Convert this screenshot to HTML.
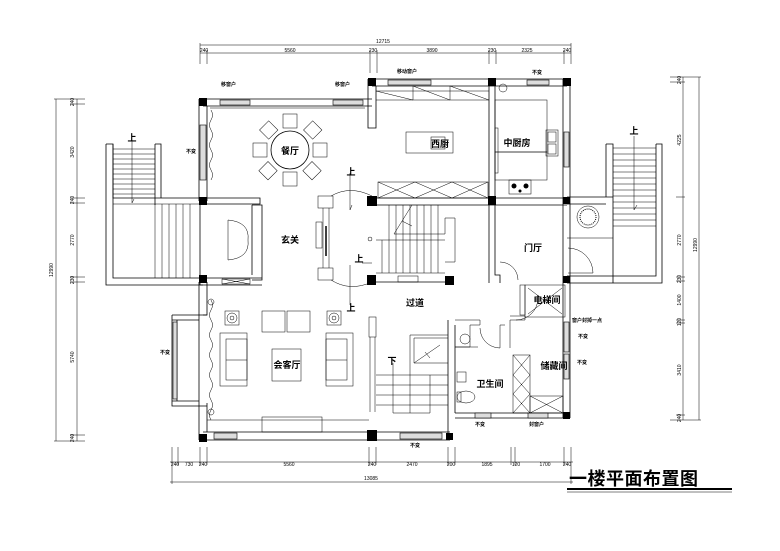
<!DOCTYPE html>
<html><head><meta charset="utf-8"><style>
html,body{margin:0;padding:0;background:#fff;}
svg{display:block;}
text{font-family:"Liberation Sans","Noto Sans CJK SC",sans-serif;fill:#000;}
.l{stroke:#000;stroke-width:0.8;fill:none;}
.t{stroke:#000;stroke-width:0.5;fill:none;}
.w{stroke:#000;stroke-width:0.6;fill:#ddd;}
.c{fill:#000;}
.s{font-size:5px;}
.m{font-size:9px;font-weight:bold;}
</style></head><body>
<svg width="780" height="551" viewBox="0 0 780 551" xmlns="http://www.w3.org/2000/svg">
<rect width="780" height="551" fill="#fff"/>

<!-- ===== top dimensions ===== -->
<g class="t">
<line x1="200" y1="45" x2="571" y2="45"/>
<line x1="200" y1="53" x2="571" y2="53"/>
<line x1="200" y1="43" x2="200" y2="64"/><line x1="207" y1="50" x2="207" y2="64"/>
<line x1="370" y1="50" x2="370" y2="73"/><line x1="377" y1="50" x2="377" y2="73"/>
<line x1="489" y1="50" x2="489" y2="64"/><line x1="496" y1="50" x2="496" y2="64"/>
<line x1="564" y1="50" x2="564" y2="64"/><line x1="571" y1="43" x2="571" y2="64"/>
</g>
<text x="383" y="43" class="s" text-anchor="middle">12715</text>
<text x="204" y="52" class="s" text-anchor="middle">240</text>
<text x="290" y="52" class="s" text-anchor="middle">5560</text>
<text x="373" y="52" class="s" text-anchor="middle">230</text>
<text x="432" y="52" class="s" text-anchor="middle">3890</text>
<text x="492" y="52" class="s" text-anchor="middle">230</text>
<text x="527" y="52" class="s" text-anchor="middle">2325</text>
<text x="567" y="52" class="s" text-anchor="middle">240</text>

<!-- ===== left dimensions ===== -->
<g class="t">
<line x1="56" y1="99" x2="56" y2="441"/>
<line x1="77" y1="99" x2="77" y2="441"/>
<line x1="54" y1="99" x2="85" y2="99"/><line x1="70" y1="104" x2="85" y2="104"/>
<line x1="70" y1="198" x2="85" y2="198"/><line x1="70" y1="203" x2="85" y2="203"/>
<line x1="70" y1="277" x2="85" y2="277"/><line x1="70" y1="282" x2="85" y2="282"/>
<line x1="70" y1="435" x2="85" y2="435"/><line x1="54" y1="441" x2="85" y2="441"/>
</g>
<g class="s">
<text transform="translate(74,102) rotate(-90)" text-anchor="middle">240</text>
<text transform="translate(74,152) rotate(-90)" text-anchor="middle">3420</text>
<text transform="translate(74,200) rotate(-90)" text-anchor="middle">240</text>
<text transform="translate(74,240) rotate(-90)" text-anchor="middle">2770</text>
<text transform="translate(74,280) rotate(-90)" text-anchor="middle">230</text>
<text transform="translate(74,357) rotate(-90)" text-anchor="middle">5740</text>
<text transform="translate(74,438) rotate(-90)" text-anchor="middle">240</text>
<text transform="translate(53,270) rotate(-90)" text-anchor="middle">12990</text>
</g>

<!-- ===== right dimensions ===== -->
<g class="t">
<line x1="699" y1="77" x2="699" y2="420"/>
<line x1="683" y1="77" x2="683" y2="420"/>
<line x1="670" y1="77" x2="701" y2="77"/><line x1="670" y1="82" x2="685" y2="82"/>
<line x1="676" y1="197" x2="685" y2="197"/>
<line x1="676" y1="277" x2="685" y2="277"/><line x1="676" y1="281" x2="685" y2="281"/>
<line x1="676" y1="320" x2="685" y2="320"/><line x1="676" y1="323" x2="685" y2="323"/>
<line x1="676" y1="415" x2="685" y2="415"/><line x1="670" y1="420" x2="701" y2="420"/>
</g>
<g class="s">
<text transform="translate(681,80) rotate(-90)" text-anchor="middle">240</text>
<text transform="translate(681,140) rotate(-90)" text-anchor="middle">4225</text>
<text transform="translate(681,240) rotate(-90)" text-anchor="middle">2770</text>
<text transform="translate(681,279) rotate(-90)" text-anchor="middle">230</text>
<text transform="translate(681,300) rotate(-90)" text-anchor="middle">1400</text>
<text transform="translate(681,322) rotate(-90)" text-anchor="middle">120</text>
<text transform="translate(681,370) rotate(-90)" text-anchor="middle">3410</text>
<text transform="translate(681,418) rotate(-90)" text-anchor="middle">240</text>
<text transform="translate(697,245) rotate(-90)" text-anchor="middle">12990</text>
</g>

<!-- ===== bottom dimensions ===== -->
<g class="t">
<line x1="170" y1="462" x2="573" y2="462"/>
<line x1="170" y1="482" x2="573" y2="482"/>
<line x1="172" y1="447" x2="172" y2="484"/><line x1="178" y1="447" x2="178" y2="465"/>
<line x1="200" y1="447" x2="200" y2="465"/><line x1="207" y1="447" x2="207" y2="465"/>
<line x1="369" y1="447" x2="369" y2="465"/><line x1="376" y1="447" x2="376" y2="465"/>
<line x1="448" y1="447" x2="448" y2="465"/><line x1="455" y1="447" x2="455" y2="465"/>
<line x1="511" y1="447" x2="511" y2="465"/><line x1="515" y1="447" x2="515" y2="465"/>
<line x1="564" y1="447" x2="564" y2="465"/><line x1="571" y1="447" x2="571" y2="484"/>
</g>
<g class="s" text-anchor="middle">
<text x="175" y="466">240</text><text x="189" y="466">730</text><text x="203" y="466">240</text>
<text x="289" y="466">5560</text><text x="372" y="466">240</text><text x="412" y="466">2470</text>
<text x="451" y="466">200</text><text x="487" y="466">1895</text><text x="516" y="466">120</text>
<text x="545" y="466">1700</text><text x="567" y="466">240</text>
<text x="371" y="480">13085</text>
</g>

<!-- ===== title ===== -->
<text x="569" y="485" style="font-size:18px;font-weight:bold;letter-spacing:0.5px">一楼平面布置图</text>
<line x1="567" y1="489" x2="732" y2="489" stroke="#000" stroke-width="2"/>
<line x1="567" y1="492" x2="732" y2="492" stroke="#000" stroke-width="0.5"/>

<!-- ===== left stair ===== -->
<g class="l">
<path d="M106,144 H113 V198 H203"/>
<path d="M106,144 V285 H203"/>
<path d="M113,144 V278 H203"/>
<path d="M155,144 H161 V198"/>
<path d="M155,144 V205"/>
</g>
<g class="t">
<line x1="113" y1="149" x2="155" y2="149"/><line x1="113" y1="154" x2="155" y2="154"/>
<line x1="113" y1="159" x2="155" y2="159"/><line x1="113" y1="164" x2="155" y2="164"/>
<line x1="113" y1="169" x2="155" y2="169"/><line x1="113" y1="174" x2="155" y2="174"/>
<line x1="113" y1="179" x2="155" y2="179"/><line x1="113" y1="184" x2="155" y2="184"/>
<line x1="113" y1="189" x2="155" y2="189"/><line x1="113" y1="194" x2="155" y2="194"/>
<line x1="113" y1="204" x2="203" y2="204"/>
<line x1="155" y1="204" x2="155" y2="278"/><line x1="162" y1="204" x2="162" y2="278"/>
<line x1="169" y1="204" x2="169" y2="278"/><line x1="176" y1="204" x2="176" y2="278"/>
<line x1="183" y1="204" x2="183" y2="278"/><line x1="190" y1="204" x2="190" y2="278"/>
<line x1="132" y1="140" x2="132" y2="203"/><line x1="132" y1="203" x2="134" y2="199"/>
</g>
<text x="132" y="141" class="m" text-anchor="middle">上</text>

<!-- ===== right stair ===== -->
<g class="l">
<path d="M606,144 H613 V283"/><path d="M606,144 V197"/>
<path d="M656,144 H662 V283 H567"/>
<path d="M656,144 V276 H567"/>
<path d="M567,197 H613"/><path d="M567,204 H606"/>
</g>
<g class="t">
<line x1="613" y1="148" x2="656" y2="148"/><line x1="613" y1="154" x2="656" y2="154"/>
<line x1="613" y1="160" x2="656" y2="160"/><line x1="613" y1="166" x2="656" y2="166"/>
<line x1="613" y1="172" x2="656" y2="172"/><line x1="613" y1="178" x2="656" y2="178"/>
<line x1="613" y1="184" x2="656" y2="184"/><line x1="613" y1="190" x2="656" y2="190"/>
<line x1="613" y1="196" x2="656" y2="196"/><line x1="613" y1="202" x2="656" y2="202"/>
<line x1="613" y1="208" x2="656" y2="208"/><line x1="613" y1="214" x2="656" y2="214"/>
<line x1="613" y1="220" x2="656" y2="220"/><line x1="613" y1="226" x2="656" y2="226"/>
<line x1="567" y1="238" x2="613" y2="238"/>
<line x1="634" y1="136" x2="634" y2="210"/><line x1="634" y1="210" x2="637" y2="205"/>
</g>
<text x="634" y="134" class="m" text-anchor="middle">上</text>
<circle cx="588" cy="217" r="11" class="t"/>
<circle cx="588" cy="217" r="8" fill="none" stroke="#000" stroke-width="1" stroke-dasharray="1,1"/>
<path d="M568,248 A25,25 0 0 1 593,273 H568" class="t"/>

<!-- ===== outer walls ===== -->
<g class="l">
<path d="M203,99 H372"/><path d="M203,106 H372"/>
<path d="M199,99 V201"/><path d="M207,106 V201"/>
<path d="M203,198 H260 V204 H203"/>
<path d="M372,79 H567"/><path d="M372,86 H567"/>
<path d="M368,79 V128 H376 V86"/>
<path d="M563,79 V283"/><path d="M570,79 V283"/>
<path d="M372,198 H567"/><path d="M372,205 H567"/>
<path d="M489,86 V283"/><path d="M495,86 V198"/>
<path d="M495,205 V275 H500 V283"/>
<path d="M200,198 V285"/><path d="M252,205 V275"/>
<path d="M252,205 H262 V280 H252"/>
<path d="M200,278 H262"/><path d="M200,285 H262"/>
<path d="M199,282 V440"/><path d="M207,282 V315 H203"/><path d="M207,403 V432"/>
<path d="M172,315 H207"/><path d="M172,320 H199"/><path d="M172,315 V406 H207"/>
<path d="M177,320 V401"/><path d="M172,401 H199"/>
<path d="M203,432 H450"/><path d="M203,440 H450"/>
<path d="M376,282 H448"/>
<path d="M448,320 V440"/><path d="M455,325 V413"/>
<path d="M455,413 H567"/><path d="M455,418 H567"/>
<path d="M563,283 V418"/><path d="M570,283 V418"/>
</g>
<g class="w">
<rect x="220" y="100" width="30" height="5"/>
<rect x="333" y="100" width="30" height="5"/>
<rect x="388" y="80" width="43" height="5"/>
<rect x="527" y="80" width="22" height="5"/>
<rect x="200" y="125" width="6" height="55"/>
<rect x="173" y="322" width="4" height="77"/>
<rect x="400" y="433" width="42" height="6"/>
<rect x="214" y="433" width="23" height="6"/>
<rect x="475" y="413" width="16" height="5"/>
<rect x="528" y="413" width="20" height="5"/>
<rect x="564" y="132" width="5" height="35"/>
<rect x="564" y="322" width="5" height="30"/>
<rect x="564" y="354" width="5" height="25"/>
</g>
<g class="c">
<rect x="199" y="98" width="8" height="8"/><rect x="199" y="197" width="8" height="8"/>
<rect x="199" y="275" width="8" height="8"/><rect x="199" y="434" width="8" height="8"/>
<rect x="368" y="78" width="8" height="8"/><rect x="488" y="78" width="8" height="8"/>
<rect x="563" y="78" width="8" height="8"/>
<rect x="367" y="196" width="10" height="10"/><rect x="488" y="196" width="8" height="9"/>
<rect x="563" y="197" width="7" height="7"/>
<rect x="367" y="275" width="9" height="10"/><rect x="445" y="276" width="9" height="9"/>
<rect x="563" y="276" width="7" height="7"/>
<rect x="367" y="430" width="10" height="11"/><rect x="446" y="433" width="7" height="7"/>
<rect x="563" y="412" width="7" height="7"/>
</g>

<path d="M211,110 q3,5 0,10 q-3,5 0,10 q3,5 0,10 q-3,5 0,10 q3,5 0,10 q-3,5 0,10 q3,5 0,10" class="t"/>
<path d="M211,300 q3,5 0,10 q-3,5 0,10 q3,5 0,10 q-3,5 0,10 q3,5 0,10 q-3,5 0,10 q3,5 0,10 q-3,5 0,10 q3,5 0,10 q-3,5 0,10 q3,5 0,10 q-3,5 0,10" class="t"/>
<circle cx="211" cy="302" r="3" class="t"/><circle cx="211" cy="412" r="3" class="t"/>
<line x1="210" y1="108" x2="365" y2="108" class="t"/>

<!-- ===== dining ===== -->
<circle cx="290" cy="150" r="19" class="l"/>
<g class="t">
<rect x="283" y="114" width="14" height="14"/><rect x="283" y="172" width="14" height="14"/>
<rect x="253" y="143" width="14" height="14"/><rect x="313" y="143" width="14" height="14"/>
<rect x="262" y="123" width="13" height="13" transform="rotate(45 268 130)"/>
<rect x="306" y="123" width="13" height="13" transform="rotate(45 312 130)"/>
<rect x="262" y="164" width="13" height="13" transform="rotate(45 268 170)"/>
<rect x="306" y="164" width="13" height="13" transform="rotate(45 312 170)"/>
</g>
<text x="290" y="154" class="m" text-anchor="middle">餐厅</text>

<!-- ===== kitchen ===== -->
<g class="t">
<path d="M376,91 H489"/>
<path d="M376,91 L413,100 M413,86 L450,100 M450,86 L489,100"/>
<line x1="376" y1="100" x2="489" y2="100"/>
<line x1="413" y1="86" x2="413" y2="100"/><line x1="450" y1="86" x2="450" y2="100"/>
<rect x="406" y="132" width="47" height="21"/>
<rect x="431" y="137" width="14" height="12"/>
<rect x="378" y="182" width="110" height="16"/>
<path d="M378,182 L415,198 M415,182 L378,198 M415,182 L452,198 M452,182 L415,198 M452,182 L488,198 M488,182 L452,198"/>
<rect x="495" y="100" width="52" height="52"/>
<rect x="495" y="152" width="52" height="28"/>
<rect x="546" y="130" width="12" height="26"/>
<rect x="548" y="132" width="8" height="10"/><rect x="548" y="144" width="8" height="10"/>
<rect x="509" y="180" width="22" height="14"/>
<circle cx="503" cy="88" r="4"/>
<rect x="495" y="128" width="3" height="45"/>
</g>
<circle cx="514" cy="186" r="2.5" class="c"/><circle cx="526" cy="186" r="2.5" class="c"/>
<circle cx="520" cy="191" r="1.5" class="c"/>
<text x="440" y="147" class="m" text-anchor="middle">西厨</text>
<text x="517" y="146" class="m" text-anchor="middle">中厨房</text>

<!-- ===== vestibule / entrance ===== -->
<g class="t">
<line x1="228" y1="220" x2="228" y2="260"/>
<path d="M228,220 Q250,222 248,240 Q250,258 228,260"/>
<rect x="222" y="279" width="28" height="5"/>
<path d="M222,279 L250,284 M250,279 L222,284"/>
<rect x="318" y="196" width="15" height="12"/>
<rect x="318" y="268" width="15" height="12"/>
<path d="M323,208 V268 M329,208 V268"/>
<rect x="316" y="222" width="6" height="26"/>
<path d="M331,196 Q350,185 372,196"/>
<path d="M331,280 Q350,292 372,282"/>
<line x1="350" y1="173" x2="350" y2="210"/><line x1="350" y1="210" x2="352" y2="205"/>
<line x1="350" y1="265" x2="350" y2="305"/>
<line x1="362" y1="263" x2="372" y2="263"/>
</g>
<line x1="326" y1="226" x2="326" y2="256" stroke="#000" stroke-width="1.5"/>
<text x="351" y="175" class="m" text-anchor="middle">上</text>
<text x="359" y="262" class="m" text-anchor="middle">上</text>
<text x="351" y="311" class="m" text-anchor="middle">上</text>
<text x="290" y="243" class="m" text-anchor="middle">玄关</text>

<!-- ===== central stair ===== -->
<g class="t">
<line x1="376" y1="240" x2="445" y2="240"/>
<line x1="376" y1="273" x2="445" y2="273"/>
<line x1="382" y1="240" x2="382" y2="273"/><line x1="389" y1="205" x2="389" y2="273"/>
<line x1="396" y1="205" x2="396" y2="273"/><line x1="403" y1="205" x2="403" y2="273"/>
<line x1="410" y1="205" x2="410" y2="273"/><line x1="417" y1="205" x2="417" y2="273"/>
<line x1="424" y1="205" x2="424" y2="273"/><line x1="431" y1="205" x2="431" y2="273"/>
<line x1="438" y1="205" x2="438" y2="273"/>
<path d="M394,234 L412,205 M402,221 L412,226 M394,234 H445 V218 H455 V262 H445"/>
<circle cx="370" cy="239" r="2"/>
<rect x="398" y="276" width="20" height="6"/>
</g>
<text x="415" y="306" class="m" text-anchor="middle">过道</text>

<!-- ===== living ===== -->
<g class="t">
<rect x="225" y="311" width="14" height="14"/><circle cx="232" cy="318" r="5"/><circle cx="232" cy="318" r="2"/>
<rect x="327" y="311" width="14" height="14"/><circle cx="334" cy="318" r="5"/><circle cx="334" cy="318" r="2"/>
<rect x="262" y="311" width="23" height="21"/><rect x="287" y="311" width="23" height="21"/>
<rect x="220" y="333" width="27" height="53"/><rect x="226" y="339" width="21" height="41"/>
<line x1="226" y1="360" x2="247" y2="360"/>
<rect x="326" y="333" width="27" height="53"/><rect x="326" y="339" width="21" height="41"/>
<line x1="326" y1="360" x2="347" y2="360"/>
<rect x="272" y="349" width="29" height="32"/>
<rect x="262" y="417" width="60" height="15"/>
<rect x="369" y="317" width="7" height="20"/>
<line x1="370" y1="337" x2="370" y2="412"/><line x1="375" y1="337" x2="375" y2="412"/>
<line x1="207" y1="420" x2="369" y2="420"/>
</g>
<text x="287" y="368" class="m" text-anchor="middle">会客厅</text>

<!-- ===== lower stair ===== -->
<g class="t">
<path d="M376,375 H448 M376,385 H448 M376,395 H448 M376,405 H448"/>
<path d="M410,335 V413 M410,335 H448 M414,338 H448 M414,338 V363 H448"/>
<path d="M393,363 V413 H430 V375"/>
<path d="M414,363 L440,345 M425,352 L430,358"/>
</g>
<text x="392" y="364" class="m" text-anchor="middle">下</text>

<!-- ===== bathroom / storage / elevator ===== -->
<g class="t">
<path d="M455,320 H480 V325 H470 V347 H455"/>
<circle cx="465" cy="339" r="5"/>
<path d="M455,347 H478"/>
<path d="M500,348 A20,20 0 0 1 480,328"/>
<path d="M500,348 V325 H505"/>
<path d="M510,316 H525 V320 H510 V348"/>
<rect x="513" y="355" width="17" height="58"/>
<path d="M513,355 L530,375 M530,355 L513,375 M513,375 L530,394 M530,375 L513,394 M513,394 L530,413 M530,394 L513,413"/>
<rect x="530" y="396" width="33" height="17"/>
<path d="M530,396 L563,413 M563,396 L530,413"/>
<rect x="525" y="285" width="40" height="32"/>
<path d="M528,288 L562,314 M562,288 L528,314"/>
<rect x="520" y="285" width="5" height="30"/>
<path d="M516,320 A22,22 0 0 0 538,298"/>
<rect x="457" y="372" width="9" height="10"/>
<ellipse cx="466" cy="397" rx="9" ry="6"/><rect x="457" y="392" width="4" height="10"/>
<path d="M500,262 A18,18 0 0 1 518,280"/>
</g>
<text x="490" y="387" class="m" text-anchor="middle">卫生间</text>
<text x="554" y="369" class="m" text-anchor="middle">储藏间</text>
<text x="547" y="303" class="m" text-anchor="middle">电梯间</text>
<text x="533" y="251" class="m" text-anchor="middle">门厅</text>

<g class="s" font-weight="bold">
<text x="221" y="86">移窗户</text>
<text x="335" y="86">移窗户</text>
<text x="397" y="73">移动窗户</text>
<text x="532" y="74">不变</text>
<text x="186" y="153">不变</text>
<text x="160" y="354">不变</text>
<text x="572" y="322">窗户封掉一点</text>
<text x="578" y="338">不变</text>
<text x="577" y="364">不变</text>
<text x="410" y="447">不变</text>
<text x="475" y="426">不变</text>
<text x="529" y="426">封窗户</text>
</g>
</svg>
</body></html>
